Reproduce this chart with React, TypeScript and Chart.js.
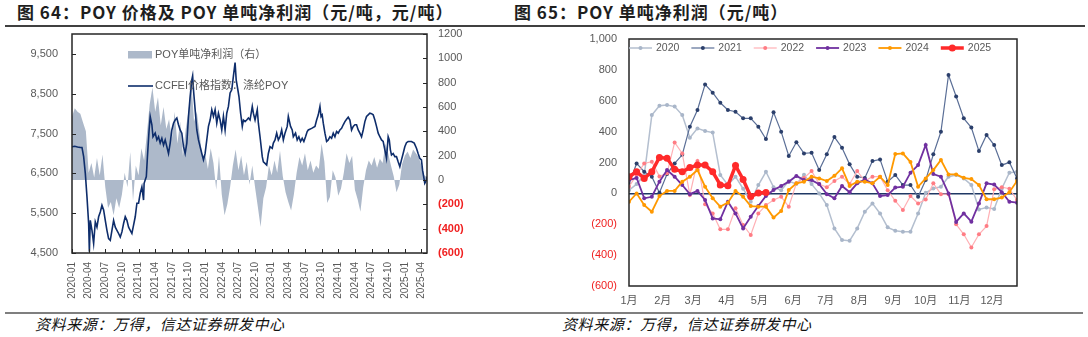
import React, { useEffect, useRef } from "react";
import { Chart, registerables } from "chart.js";
Chart.register(...registerables);

const FONT = "'Liberation Sans', 'Noto Sans CJK SC', sans-serif";
const CJK = "'Noto Sans CJK SC', sans-serif";
const GRAY = "#595959";
const RED = "#F02020";

// ---------- Figure 64 data ----------
// months since 2020-01
const priceT = [0,0.5,1,1.5,1.8,2.1,2.4,2.7,3,3.13,3.3,3.6,3.9,4.2,4.5,4.8,5.1,5.4,5.7,6,6.3,6.6,6.9,7.2,7.5,7.8,8.1,8.4,8.7,9,9.3,9.6,9.9,10.2,10.5,10.8,11.1,11.4,11.7,12,12.3,12.6,12.9,13,13.4,13.6,13.9,14.1,14.4,14.6,15,15.3,15.6,15.9,16.2,16.5,16.8,17.1,17.4,17.7,18,18.3,18.6,18.9,19.2,19.5,19.8,20.1,20.4,20.7,21,21.3,21.6,21.75,21.9,22.2,22.5,22.8,23.1,23.4,23.7,24,24.3,24.6,24.9,25.2,25.5,25.8,26.1,26.4,26.7,27,27.3,27.6,27.9,28.2,28.5,28.8,29.1,29.4,29.6,29.9,30.1,30.4,30.7,30.9,31.2,31.5,31.8,32.1,32.5,32.7,33,33.4,33.6,33.9,34.3,34.5,34.8,35.1,35.4,35.7,36.1,36.3,36.6,36.9,37.2,37.5,37.8,38.1,38.4,38.8,39,39.4,39.7,39.9,40.3,40.6,40.9,41.2,41.5,41.8,42.1,42.4,42.6,43.2,43.8,44.1,44.4,44.7,44.9,45.1,45.3,45.6,45.9,46.2,46.5,46.8,47.1,47.4,47.7,48,48.3,48.6,48.9,49.2,49.5,49.8,50.1,50.4,50.7,51,51.3,51.6,51.9,52.2,52.5,52.8,53.1,53.4,53.7,54,54.3,54.6,54.9,55.2,55.5,55.8,56.1,56.4,56.7,57,57.2,57.4,57.6,57.9,58.2,58.5,58.8,59.1,59.4,59.7,60,60.3,60.6,61.2,61.7,62.1,62.4,62.7,63,63.2,63.4,63.6,63.9,64];
const priceV = [7170,7180,7160,7150,7150,6920,6500,5910,5240,4530,5320,5070,4740,5280,5150,5410,5530,5700,5580,5320,5070,4860,4820,5070,5320,5150,5070,4990,4900,5030,5240,5410,5320,5150,5070,4990,5200,5410,5750,5750,6000,6160,5830,6250,6420,6920,7590,7930,7720,7420,7510,7340,7420,7260,7380,7210,7340,7170,7000,7260,7590,7760,7840,7890,7720,7590,7510,7170,7000,7260,7930,8430,8850,8950,8600,8100,7590,7340,7170,7000,6840,7000,7340,7680,7840,8100,7930,8100,7760,8010,7840,7590,7930,7590,8010,8180,8520,8600,8940,9280,8850,8600,8430,8010,7680,7840,7800,7840,7890,7840,8180,8010,7840,8100,7760,7420,6920,6790,6750,6710,7000,7170,7130,7260,7340,7510,7340,7420,7590,7340,7510,7680,7930,7680,7590,7420,7510,7340,7420,7300,7380,7300,7420,7550,7590,7630,7680,7840,7970,8180,7930,7970,7760,7510,7300,7340,7420,7380,7510,7420,7550,7510,7590,7630,7720,7800,7860,7910,7840,7590,7680,7720,7720,7590,7510,7420,7590,7800,7930,7970,8010,8000,7970,7840,7680,7510,7420,7340,7300,7090,6880,7420,7340,7090,6960,7000,6920,6920,6790,6670,6840,7000,7170,7270,7300,7300,7260,7130,7000,6880,6840,6580,6420,6250,6330,6420];
// half-month samples from 2020-01
const profitV = [520,590,560,545,470,400,60,140,20,180,40,210,-60,-230,-180,-290,-150,-230,-120,60,-60,230,-170,120,40,260,160,380,620,760,560,680,450,600,420,500,330,560,300,480,200,420,560,820,480,560,380,180,220,90,260,140,-80,200,-120,-290,-200,-60,120,250,80,200,40,150,-40,120,-60,-220,-386,-150,-60,120,40,160,60,240,30,-100,-180,-250,-120,60,190,120,220,80,160,60,120,90,300,150,-190,-140,80,20,-130,-70,60,220,140,200,-80,-160,-260,-60,80,160,120,190,100,175,140,300,220,120,30,-100,-40,130,200,235,180,250,220,190,120,40,20];
const quarterLabels = ["2020-01","2020-04","2020-07","2020-10","2021-01","2021-04","2021-07","2021-10","2022-01","2022-04","2022-07","2022-10","2023-01","2023-04","2023-07","2023-10","2024-01","2024-04","2024-07","2024-10","2025-01","2025-04"];

// ---------- Figure 65 data (weekly) ----------
const monthLabels = ["1月","2月","3月","4月","5月","6月","7月","8月","9月","10月","11月","12月"];
const monthStartDays = [0,31,59,90,120,151,181,212,243,273,304,334];
const yearLabels = ["2020","2021","2022","2023","2024","2025"];
const s2020 = [20,60,117,507,568,573,562,507,361,421,404,394,119,55,108,30,-54,54,140,40,20,80,60,120,60,0,-76,-227,-302,-307,-227,-119,-65,-130,-220,-242,-248,-248,-130,4,32,43,108,119,97,54,-104,-91,-101,32,134,140];
const s2021 = [60,194,140,108,4,125,194,250,432,540,706,652,587,540,529,486,486,432,352,525,400,242,331,259,263,151,253,365,296,188,108,100,209,220,75,119,54,54,-22,86,253,399,767,628,486,426,274,378,313,183,201,97];
const s2022 = [43,120,194,205,110,130,330,259,-10,209,-71,-130,-233,-233,-97,-205,-270,-130,-76,-43,-22,-86,65,100,145,60,40,80,108,60,145,80,108,108,20,-48,-108,-17,-65,-40,65,-5,-5,-200,-265,-350,-265,-212,26,40,30,-43];
const s2023 = [86,100,-32,-22,76,151,108,54,-5,16,-43,-162,-168,-54,-130,-227,-151,-82,-17,22,48,76,113,86,86,60,-5,-32,48,8,65,90,65,-17,-11,38,43,134,183,313,125,108,0,-185,-130,-183,-65,65,57,8,-54,-60];
const s2024 = [-54,0,-76,-119,-17,16,16,76,108,151,43,-32,-86,-60,16,-22,-82,-86,-86,-157,-114,22,65,76,108,97,80,114,162,48,76,76,65,108,54,255,259,203,43,97,151,216,123,123,101,93,54,-38,-38,-27,8,80];
const s2025 = [108,140,97,140,233,227,157,140,167,183,183,140,55,50,180,90,-20,2,6];
const yearSeries = [s2020, s2021, s2022, s2023, s2024, s2025];
const yearStyles = [
  { line: "#B4BFCF", point: "#A9B6C9", width: 1.5, r: 2 },
  { line: "#5A6E96", point: "#2B3F6B", width: 1.2, r: 2 },
  { line: "#FFB0B5", point: "#FF7C84", width: 1.2, r: 2 },
  { line: "#7030A0", point: "#7030A0", width: 1.8, r: 2 },
  { line: "#FF9900", point: "#FF9900", width: 1.8, r: 2 },
  { line: "#FF2A2A", point: "#FF2A2A", width: 3.5, r: 3.5 },
];

const framePlugin = {
  id: "frame",
  afterDatasetsDraw(chart: any) {
    const { ctx, chartArea: a } = chart;
    ctx.save();
    ctx.strokeStyle = "#262626";
    ctx.lineWidth = 1.5;
    ctx.strokeRect(a.left, a.top, a.right - a.left, a.bottom - a.top);
    ctx.restore();
  },
};

const innerTicksPlugin = {
  id: "innerTicks",
  afterDatasetsDraw(chart: any) {
    const { ctx, chartArea: a, scales } = chart;
    ctx.save();
    ctx.strokeStyle = "#262626";
    ctx.lineWidth = 1;
    ctx.beginPath();
    scales.yL.ticks.forEach((t: any) => {
      const y = Math.round(scales.yL.getPixelForValue(t.value)) + 0.5;
      ctx.moveTo(a.left, y); ctx.lineTo(a.left + 4, y);
    });
    scales.yR.ticks.forEach((t: any) => {
      const y = Math.round(scales.yR.getPixelForValue(t.value)) + 0.5;
      ctx.moveTo(a.right - 4, y); ctx.lineTo(a.right, y);
    });
    scales.x.ticks.forEach((t: any) => {
      const x = Math.round(scales.x.getPixelForValue(t.value)) + 0.5;
      ctx.moveTo(x, a.bottom); ctx.lineTo(x, a.bottom - 4);
    });
    ctx.stroke();
    ctx.restore();
  },
};

const leftLegendPlugin = {
  id: "leftLegend",
  afterDraw(chart: any) {
    const ctx = chart.ctx;
    ctx.save();
    ctx.fillStyle = "#ADB9CA";
    ctx.fillRect(128, 51, 24, 7.5);
    ctx.strokeStyle = "#0E2D6B";
    ctx.lineWidth = 1.6;
    ctx.beginPath(); ctx.moveTo(128, 86); ctx.lineTo(153, 86); ctx.stroke();
    ctx.fillStyle = GRAY;
    ctx.font = `11px ${FONT}`;
    ctx.textBaseline = "middle";
    ctx.fillText("POY单吨净利润（右）", 155, 55);
    ctx.fillText("CCFEI价格指数：涤纶POY", 155, 86);
    ctx.restore();
  },
};

const rightLegendPlugin = {
  id: "rightLegend",
  afterDraw(chart: any) {
    const ctx = chart.ctx;
    ctx.save();
    ctx.font = `10.5px ${FONT}`;
    ctx.textBaseline = "middle";
    let x = chart.chartArea.left;
    const y = 48;
    yearLabels.forEach((name, i) => {
      const s = yearStyles[i];
      ctx.strokeStyle = s.line;
      ctx.lineWidth = s.width;
      ctx.beginPath(); ctx.moveTo(x, y); ctx.lineTo(x + 23, y); ctx.stroke();
      ctx.fillStyle = s.point;
      ctx.beginPath(); ctx.arc(x + 11.5, y, s.r, 0, Math.PI * 2); ctx.fill();
      ctx.fillStyle = GRAY;
      ctx.fillText(name, x + 27, y + 0.5);
      x += 27 + ctx.measureText(name).width + 12;
    });
    ctx.restore();
  },
};

function LeftChart() {
  const ref = useRef<HTMLCanvasElement>(null);
  useEffect(() => {
    const chart = new Chart(ref.current!, {
      type: "line",
      data: {
        datasets: [
          {
            label: "CCFEI价格指数：涤纶POY",
            data: priceT.map((t, i) => ({ x: t, y: priceV[i] })),
            yAxisID: "yL",
            borderColor: "#0E2D6B",
            borderWidth: 1.6,
            pointRadius: 0,
            tension: 0,
            fill: false,
            order: 0,
          },
          {
            label: "POY单吨净利润（右）",
            data: profitV.map((v, i) => ({ x: i * 0.5, y: v })),
            yAxisID: "yR",
            borderWidth: 0,
            borderColor: "rgba(0,0,0,0)",
            backgroundColor: "#ADB9CA",
            fill: "origin",
            pointRadius: 0,
            tension: 0,
            order: 1,
          },
        ],
      } as any,
      options: {
        responsive: false,
        animation: false,
        devicePixelRatio: 1,
        layout: { padding: { top: 34, left: 0, right: 0, bottom: 0 } },
        plugins: { legend: { display: false }, tooltip: { enabled: false } },
        scales: {
          x: {
            type: "linear",
            min: 0,
            max: 64,
            afterBuildTicks: (s: any) => { s.ticks = quarterLabels.map((_, i) => ({ value: i * 3 })); },
            afterFit: (s: any) => { s.height = 59; },
            ticks: {
              autoSkip: false, minRotation: 90, maxRotation: 90, padding: 9,
              color: GRAY, font: { family: FONT, size: 10 },
              callback: (v: any) => quarterLabels[Math.round(v / 3)],
            },
            grid: { display: false, drawTicks: false },
            border: { display: false },
          },
          yL: {
            position: "left",
            min: 4500,
            max: 10000,
            afterBuildTicks: (s: any) => { s.ticks = [4500, 5500, 6500, 7500, 8500, 9500].map((v) => ({ value: v })); },
            afterFit: (s: any) => { s.width = 72; },
            ticks: { padding: 14, color: GRAY, font: { family: FONT, size: 11 }, callback: (v: any) => Number(v).toLocaleString("en-US") },
            grid: { display: false, drawTicks: false },
            border: { display: false },
          },
          yR: {
            position: "right",
            min: -600,
            max: 1200,
            afterFit: (s: any) => { s.width = 118; },
            ticks: {
              stepSize: 200, padding: 11,
              color: (c: any) => (c.tick && c.tick.value < 0 ? RED : GRAY),
              font: (c: any) => ({ family: FONT, size: 11, weight: c.tick && c.tick.value < 0 ? "bold" : "normal" }),
              callback: (v: any) => (v < 0 ? `(${-v})` : `${v}`),
            },
            grid: { display: false, drawTicks: false },
            border: { display: false },
          },
        },
      } as any,
      plugins: [framePlugin, innerTicksPlugin, leftLegendPlugin],
    });
    return () => chart.destroy();
  }, []);
  return <canvas ref={ref} width={545} height={312} style={{ position: "absolute", left: 0, top: 0 }} />;
}

function RightChart() {
  const ref = useRef<HTMLCanvasElement>(null);
  useEffect(() => {
    const order = [5, 4, 3, 2, 1, 0];
    const chart = new Chart(ref.current!, {
      type: "line",
      data: {
        datasets: yearSeries.map((arr, k) => ({
          label: yearLabels[k],
          data: arr.map((v, i) => ({ x: i, y: v })),
          borderColor: yearStyles[k].line,
          borderWidth: yearStyles[k].width,
          pointRadius: yearStyles[k].r,
          pointBackgroundColor: yearStyles[k].point,
          pointBorderWidth: 0,
          tension: 0,
          fill: false,
          order: order[k],
        })),
      } as any,
      options: {
        responsive: false,
        animation: false,
        devicePixelRatio: 1,
        layout: { padding: { top: 39, left: 0, right: 71, bottom: 0 } },
        plugins: { legend: { display: false }, tooltip: { enabled: false } },
        scales: {
          x: {
            type: "linear",
            min: 0,
            max: 51,
            afterBuildTicks: (s: any) => { s.ticks = monthStartDays.map((d) => ({ value: d / 7 })); },
            afterFit: (s: any) => { s.height = 26; },
            ticks: {
              autoSkip: false, maxRotation: 0, minRotation: 0, padding: 8,
              color: GRAY, font: { family: FONT, size: 11 },
              callback: (v: any, i: number) => monthLabels[i],
            },
            grid: { display: false, drawTicks: false },
            border: { display: false },
          },
          y: {
            position: "left",
            min: -600,
            max: 1000,
            afterFit: (s: any) => { s.width = 84; },
            ticks: {
              stepSize: 200, padding: 12,
              color: (c: any) => (c.tick && c.tick.value < 0 ? RED : GRAY),
              font: { family: FONT, size: 11 },
              callback: (v: any) => (v < 0 ? `(${-v})` : Number(v).toLocaleString("en-US")),
            },
            grid: {
              drawTicks: false,
              color: (c: any) => (c.tick && c.tick.value === 0 ? "#1F3864" : "rgba(0,0,0,0)"),
              lineWidth: 1.5,
            },
            border: { display: false },
          },
        },
      } as any,
      plugins: [framePlugin, rightLegendPlugin],
    });
    return () => chart.destroy();
  }, []);
  return <canvas ref={ref} width={543} height={312} style={{ position: "absolute", left: 545, top: 0 }} />;
}

export default function App() {
  const titleStyle: React.CSSProperties = {
    position: "absolute", top: 1, font: `bold 17px ${CJK}`, color: "#1E1E1E",
    whiteSpace: "nowrap", lineHeight: "22px", letterSpacing: "1px",
  };
  const srcStyle: React.CSSProperties = {
    position: "absolute", top: 314, font: `italic 15px ${CJK}`, color: "#111",
    whiteSpace: "nowrap", lineHeight: "20px", letterSpacing: "0.6px",
  };
  return (
    <div style={{ position: "absolute", left: 0, top: 0, width: 1088, height: 337, background: "#fff", overflow: "hidden" }}>
      <div style={{ ...titleStyle, left: 17 }}>图 64：POY 价格及 POY 单吨净利润（元/吨，元/吨）</div>
      <div style={{ ...titleStyle, left: 514 }}>图 65：POY 单吨净利润（元/吨）</div>
      <div style={{ position: "absolute", left: 5, top: 25, width: 1080, height: 1.5, background: "#404040" }} />
      <LeftChart />
      <RightChart />
      <div style={{ position: "absolute", left: 5, top: 312, width: 1078, height: 1.5, background: "#7F7F7F" }} />
      <div style={{ ...srcStyle, left: 35 }}>资料来源：万得，信达证券研发中心</div>
      <div style={{ ...srcStyle, left: 562 }}>资料来源：万得，信达证券研发中心</div>
    </div>
  );
}
